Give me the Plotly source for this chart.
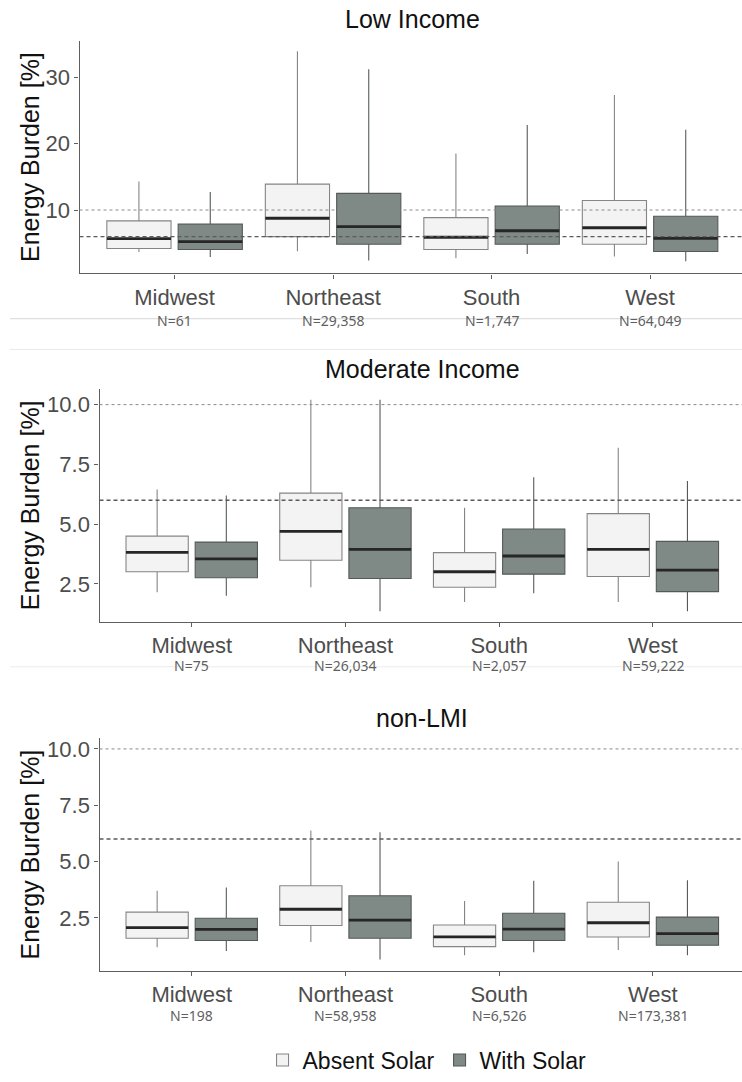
import plotly.graph_objects as go

W, H = 742, 1082

regions = ["Midwest", "Northeast", "South", "West"]
panel_titles = ["Low Income", "Moderate Income", "non-LMI"]
series_names = ["Absent Solar", "With Solar"]

# Energy-burden thresholds drawn as reference lines (%)
high_burden = 6.0
severe_burden = 10.0

# Box statistics per panel and series: whisker ends, quartiles, median (%)
low_absent = dict(lower=[3.66, 3.8, 2.72, 3.0], q1=[4.2, 6.0, 4.06, 4.85],
                  median=[5.7, 8.76, 5.9, 7.33], q3=[8.37, 13.9, 8.86, 11.44],
                  upper=[14.3, 33.9, 18.5, 27.3])
low_with = dict(lower=[2.92, 2.4, 3.37, 2.28], q1=[4.06, 4.85, 4.85, 3.76],
                median=[5.25, 7.5, 6.88, 5.74], q3=[7.87, 12.5, 10.6, 9.06],
                upper=[12.7, 31.2, 22.8, 22.1])
mod_absent = dict(lower=[2.15, 2.36, 1.75, 1.75], q1=[3.01, 3.49, 2.36, 2.81],
                  median=[3.82, 4.7, 3.01, 3.95], q3=[4.5, 6.3, 3.81, 5.44],
                  upper=[6.45, 10.2, 5.69, 8.2])
mod_with = dict(lower=[2.01, 1.36, 2.11, 1.36], q1=[2.76, 2.73, 2.91, 2.18],
                median=[3.55, 3.95, 3.67, 3.08], q3=[4.25, 5.69, 4.8, 4.28],
                upper=[6.2, 10.2, 6.96, 6.81])
non_absent = dict(lower=[1.19, 1.43, 0.84, 1.07], q1=[1.59, 2.16, 1.22, 1.65],
                  median=[2.06, 2.88, 1.65, 2.28], q3=[2.75, 3.92, 2.18, 3.19],
                  upper=[3.7, 6.38, 3.25, 5.0])
non_with = dict(lower=[1.02, 0.65, 0.97, 0.84], q1=[1.49, 1.59, 1.49, 1.28],
                median=[1.99, 2.4, 2.0, 1.8], q3=[2.48, 3.48, 2.7, 2.53],
                upper=[3.84, 6.3, 4.14, 4.17])

low_n = ["N=61", "N=29,358", "N=1,747", "N=64,049"]
mod_n = ["N=75", "N=26,034", "N=2,057", "N=59,222"]
non_n = ["N=198", "N=58,958", "N=6,526", "N=173,381"]

low_ticks = [10, 20, 30]
low_ticktext = ["10", "20", "30"]
share_ticks = [2.5, 5.0, 7.5, 10.0]
share_ticktext = ["2.5", "5.0", "7.5", "10.0"]

# Panel geometry in pixels (left edge, top, bottom) and value ranges
panels = [
    dict(stats=(low_absent, low_with), counts=low_n, left=79.5, top=41, bottom=276,
         yrange=[0.45, 35.5], ticks=low_ticks, ticktext=low_ticktext,
         title_y=19, n_y=323),
    dict(stats=(mod_absent, mod_with), counts=mod_n, left=99.5, top=392.7, bottom=627.3,
         yrange=[0.93, 10.65], ticks=share_ticks, ticktext=share_ticktext,
         title_y=372, n_y=672),
    dict(stats=(non_absent, non_with), counts=non_n, left=99.5, top=745, bottom=980,
         yrange=[0.14, 10.48], ticks=share_ticks, ticktext=share_ticktext,
         title_y=725, n_y=1025),
]

fills = ["#f3f3f3", "#7f8986"]
outlines = ["#858585", "#555a58"]
median_color = "#262626"
dodge = 0.225
box_width = 0.405
FONT = "Liberation Sans"

fig = go.Figure()
layout = dict(annotations=[], shapes=[])


def px_x(v):
    return v / W


def px_y(v):
    return 1 - v / H


for i, p in enumerate(panels):
    sfx = "" if i == 0 else str(i + 1)
    xa, ya = "x" + sfx, "y" + sfx
    for s, stats in enumerate(p["stats"]):
        off = -dodge if s == 0 else dodge
        xs = [k + off for k in range(len(regions))]
        fig.add_trace(go.Box(
            x=xs, q1=stats["q1"], median=stats["median"], q3=stats["q3"],
            lowerfence=stats["lower"], upperfence=stats["upper"],
            width=box_width, whiskerwidth=0, boxpoints=False,
            fillcolor=fills[s], line=dict(color=outlines[s], width=1.1),
            name=series_names[s], legendgroup=series_names[s],
            showlegend=(i == 0), xaxis=xa, yaxis=ya, hoverinfo="y",
        ))
        mx, my = [], []
        for x, m in zip(xs, stats["median"]):
            mx += [x - box_width / 2, x + box_width / 2, None]
            my += [m, m, None]
        fig.add_trace(go.Scatter(
            x=mx, y=my, mode="lines", line=dict(color=median_color, width=2.8),
            showlegend=False, hoverinfo="skip", xaxis=xa, yaxis=ya,
        ))

    layout["xaxis" + sfx] = dict(
        domain=[px_x(p["left"]), 1], range=[-0.6, 3.58], anchor=ya,
        tickvals=list(range(len(regions))), ticktext=regions,
        showline=True, linecolor="#5e5e5e", linewidth=1.3,
        ticks="outside", ticklen=4, tickcolor="#5e5e5e",
        tickfont=dict(family=FONT, size=22, color="#4d4d4d"),
        showgrid=False, zeroline=False,
    )
    layout["yaxis" + sfx] = dict(
        domain=[px_y(p["bottom"]), px_y(p["top"])], range=p["yrange"], anchor=xa,
        tickvals=p["ticks"], ticktext=p["ticktext"],
        showline=True, linecolor="#5e5e5e", linewidth=1.3,
        ticks="outside", ticklen=4, tickcolor="#5e5e5e",
        tickfont=dict(family=FONT, size=22, color="#4d4d4d"),
        showgrid=False, zeroline=False,
    )

    # Threshold reference lines
    layout["shapes"].append(dict(
        type="line", xref=xa + " domain", x0=0, x1=1, yref=ya,
        y0=severe_burden, y1=severe_burden, layer="above",
        line=dict(color="#8a8a8a", width=1, dash="dot"),
    ))
    layout["shapes"].append(dict(
        type="line", xref=xa + " domain", x0=0, x1=1, yref=ya,
        y0=high_burden, y1=high_burden, layer="above",
        line=dict(color="#5a5a5a", width=1.3, dash="4px,3px"),
    ))

    # Panel title
    layout["annotations"].append(dict(
        text=panel_titles[i], xref="paper", yref="paper",
        x=px_x((p["left"] + 745) / 2), y=px_y(p["title_y"]),
        xanchor="center", yanchor="middle", showarrow=False,
        font=dict(family=FONT, size=25, color="#111111"),
    ))
    # Y-axis title
    layout["annotations"].append(dict(
        text="Energy Burden [%]", xref="paper", yref="paper", textangle=-90,
        x=px_x(30), y=px_y((p["top"] + p["bottom"]) / 2),
        xanchor="center", yanchor="middle", showarrow=False,
        font=dict(family=FONT, size=25, color="#111111"),
    ))
    # Sample sizes under each region
    for k, label in enumerate(p["counts"]):
        layout["annotations"].append(dict(
            text=label, xref=xa, yref="paper", x=k, y=px_y(p["n_y"]),
            xanchor="center", yanchor="middle", showarrow=False, borderpad=0,
            font=dict(family="Noto Sans", size=14, color="#5f5f5f"),
        ))

# Light separators between stacked panels
for y_px, col in [(321.7, "#d6d6d6"), (352.7, "#e8e8e8"), (673.0, "#ececec")]:
    layout["shapes"].append(dict(
        type="line", xref="paper", yref="paper", x0=px_x(10), x1=1,
        y0=px_y(y_px), y1=px_y(y_px), layer="below",
        line=dict(color=col, width=1),
    ))

fig.update_layout(
    width=W, height=H, margin=dict(l=0, r=0, t=0, b=0),
    paper_bgcolor="white", plot_bgcolor="white",
    showlegend=True,
    legend=dict(orientation="h", x=0.5755, xanchor="center", y=px_y(1070),
                yanchor="middle", font=dict(family=FONT, size=23, color="#111111"),
                itemwidth=30, bgcolor="rgba(0,0,0,0)"),
    **layout,
)

fig.write_html("out.html")
